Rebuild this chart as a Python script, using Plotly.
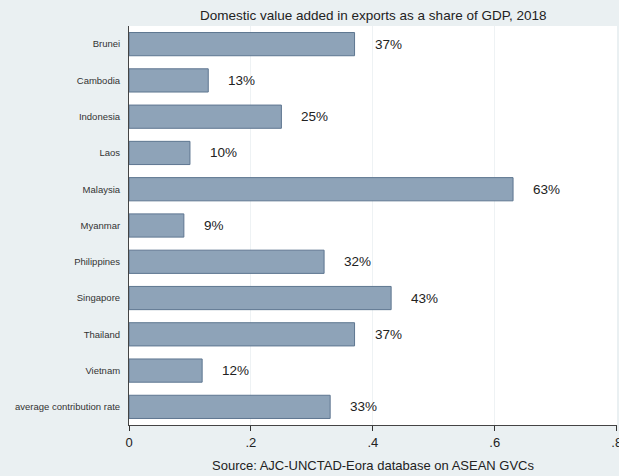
import plotly.graph_objects as go

countries = ["Brunei", "Cambodia", "Indonesia", "Laos", "Malaysia", "Myanmar",
             "Philippines", "Singapore", "Thailand", "Vietnam", "average contribution rate"]
values = [0.37, 0.13, 0.25, 0.10, 0.63, 0.09, 0.32, 0.43, 0.37, 0.12, 0.33]
labels = ["37%", "13%", "25%", "10%", "63%", "9%", "32%", "43%", "37%", "12%", "33%"]
tick_vals = [0, 0.2, 0.4, 0.6, 0.8]
tick_text = ["0", ".2", ".4", ".6", ".8"]

FONT = "Liberation Sans, Arial, sans-serif"

fig = go.Figure()
fig.add_trace(go.Bar(
    x=values, y=countries, orientation="h",
    marker=dict(color="#8ea3b8", line=dict(color="#5e7690", width=1)),
    width=0.64, hoverinfo="x+y",
))

annotations = []
for c, v, t in zip(countries, values, labels):
    annotations.append(dict(x=v, y=c, xref="x", yref="y", text=t, showarrow=False,
                            xanchor="left", yanchor="middle", xshift=18,
                            font=dict(family=FONT, size=13.5, color="#222")))
annotations.append(dict(x=0.5, y=1, xref="paper", yref="paper", yanchor="bottom", yshift=1,
                        text="Domestic value added in exports as a share of GDP, 2018",
                        showarrow=False, font=dict(family=FONT, size=13.5, color="#222")))
annotations.append(dict(x=0.5, y=0, xref="paper", yref="paper", yanchor="top", yshift=-31,
                        text="Source: AJC-UNCTAD-Eora database on ASEAN GVCs",
                        showarrow=False, font=dict(family=FONT, size=13, color="#222")))

fig.update_layout(
    width=619, height=476,
    margin=dict(l=129, r=2, t=26, b=51),
    paper_bgcolor="#eaf0f2", plot_bgcolor="white",
    showlegend=False, bargap=0.36,
    annotations=annotations,
    xaxis=dict(range=[0, 0.8005], tickvals=tick_vals, ticktext=tick_text,
               ticks="outside", ticklen=5, tickcolor="#333", tickwidth=1,
               ticklabeloverflow="allow",
               showline=True, linecolor="#444", linewidth=1, automargin=False,
               showgrid=True, gridcolor="#eef2f4", gridwidth=1, zeroline=False,
               tickfont=dict(family=FONT, size=13, color="#222")),
    yaxis=dict(categoryorder="array", categoryarray=countries[::-1],
               autorange=True, showline=True, linecolor="#444", linewidth=1,
               ticks="", showgrid=False, ticklabelstandoff=6, automargin=False,
               tickfont=dict(family=FONT, size=9.5, color="#333")),
)

fig.write_html("out.html", config={"displayModeBar": False},
               post_script="document.body.style.margin='0';")
